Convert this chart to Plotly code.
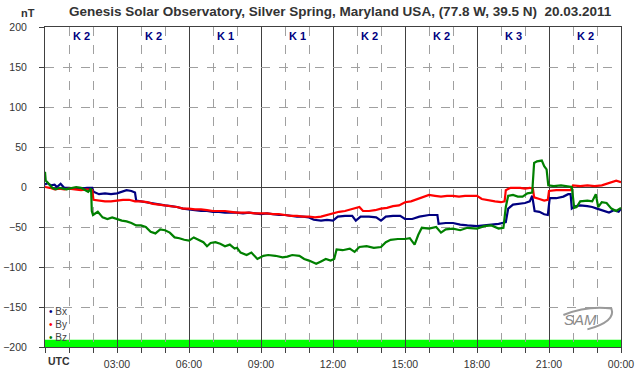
import plotly.graph_objects as go

# ---------------- data ----------------
bx_t = [0, 0.1, 0.25, 0.4, 0.5, 0.65, 0.8, 1.0, 1.25, 1.5, 1.75, 1.97, 2.02, 2.25, 2.5, 2.75, 3.0, 3.2, 3.4, 3.6, 3.75, 3.8,
        4.0, 4.25, 4.5, 4.75, 5.0, 5.25, 5.5, 5.75, 6.0, 6.25, 6.5, 6.75, 7.0, 7.25, 7.5, 7.75, 8.0, 8.25, 8.5, 8.75,
        9.0, 9.25, 9.5, 9.75, 10.0, 10.25, 10.5, 10.75, 11.0, 11.2, 11.5, 11.75, 12.0, 12.2, 12.5, 12.8, 12.95, 13.15,
        13.5, 13.8, 14.0, 14.2, 14.5, 14.8, 15.0, 15.3, 15.6, 16.0, 16.35, 16.4, 16.7, 17.0, 17.3, 17.6, 18.0, 18.3,
        18.6, 18.9, 19.2, 19.3, 19.5, 19.75, 20.0, 20.2, 20.3, 20.4, 20.6, 20.8, 20.95, 21.03, 21.3, 21.6, 21.8, 21.9,
        21.95, 22.1, 22.3, 22.6, 22.8, 23.0, 23.3, 23.5, 23.7, 23.9, 24.0]
bx_v = [3, 5, 2, 3, 0, 4, -1, -1, -2, -2, -1, -1, -6, -9, -8, -9, -8, -6, -4, -5, -7, -17,
        -18, -20, -21, -22, -23, -24, -25, -27, -28, -29, -30, -30, -31, -31, -32, -32, -32, -33, -32, -33,
        -34, -33, -34, -35, -35, -36, -37, -37, -38, -41, -42, -41, -42, -37, -36, -36, -42, -37,
        -37, -38, -42, -37, -36, -36, -40, -40, -37, -35, -35, -46, -45, -45, -47, -48, -49, -48,
        -47, -46, -44, -27, -22, -21, -20, -18, -11, -30, -31, -34, -35, -14, -14, -12, -9, -9,
        -27, -24, -23, -24, -25, -27, -30, -32, -29, -31, -27]

by_t = [0, 0.2, 0.4, 0.6, 0.8, 1.0, 1.25, 1.5, 1.75, 1.97, 2.02, 2.25, 2.5, 2.75, 3.0, 3.25, 3.5, 3.75, 4.0, 4.25,
        4.5, 4.75, 5.0, 5.25, 5.5, 5.75, 6.0, 6.25, 6.5, 6.75, 7.0, 7.25, 7.5, 7.75, 8.0, 8.25, 8.5, 8.75, 9.0, 9.25,
        9.5, 9.75, 10.0, 10.25, 10.5, 10.75, 11.0, 11.25, 11.5, 11.75, 12.0, 12.25, 12.5, 12.75, 13.0, 13.1, 13.25,
        13.5, 13.75, 14.0, 14.25, 14.5, 14.75, 15.0, 15.25, 15.5, 15.75, 16.0, 16.25, 16.5, 16.75, 17.0, 17.25, 17.5,
        17.75, 18.0, 18.2, 18.5, 18.75, 19.0, 19.15, 19.2, 19.4, 19.6, 19.8, 20.0, 20.2, 20.33, 20.38, 20.6, 20.8,
        20.95, 21.0, 21.3, 21.6, 21.9, 22.0, 22.3, 22.6, 22.9, 23.2, 23.5, 23.8, 24.0]
by_v = [0, -1, -3, -2, -3, -2, -3, -4, -3, -4, -16, -17, -18, -18, -17, -16, -16, -18, -18, -19,
        -21, -22, -23, -24, -25, -27, -27, -28, -28, -29, -30, -30, -30, -31, -32, -32, -32, -33, -33, -33,
        -34, -34, -35, -36, -36, -37, -37, -38, -37, -35, -33, -31, -30, -28, -26, -25, -30,
        -30, -29, -27, -26, -24, -23, -19, -18, -15, -13, -10, -11, -12, -11, -11, -12, -11,
        -11, -11, -15, -17, -18, -19, -18, -4, -1, -1, -1, -2, -1, -2, -13, -15, -17,
        -16, -5, -4, -4, -4, 2, 1, 2, 1, 2, 5, 8, 6]

bz_t = [0, 0.03, 0.1, 0.2, 0.3, 0.45, 0.6, 0.75, 0.9, 1.0, 1.15, 1.3, 1.5, 1.65, 1.8, 1.92, 1.95, 2.0, 2.2, 2.4,
        2.6, 2.8, 3.0, 3.2, 3.4, 3.6, 3.8, 4.0, 4.2, 4.4, 4.6, 4.8, 5.0, 5.2, 5.4, 5.6, 5.8, 6.0, 6.2, 6.4, 6.6,
        6.75, 6.9, 7.1, 7.3, 7.5, 7.7, 7.9, 8.0, 8.15, 8.4, 8.6, 8.85, 9.1, 9.3, 9.6, 9.9, 10.1, 10.3, 10.6, 10.8,
        11.0, 11.3, 11.5, 11.7, 11.9, 12.05, 12.15, 12.4, 12.7, 12.9, 13.1, 13.4, 13.7, 14.0, 14.2, 14.4, 14.7,
        15.0, 15.2, 15.4, 15.55, 15.7, 16.0, 16.3, 16.5, 16.7, 17.0, 17.3, 17.6, 18.0, 18.3, 18.6, 18.9, 19.1,
        19.2, 19.3, 19.5, 19.7, 19.9, 20.1, 20.3, 20.38, 20.5, 20.7, 20.8, 20.9, 20.97, 21.2, 21.5, 21.8, 21.95,
        22.05, 22.15, 22.3, 22.6, 22.8, 22.95, 23.05, 23.2, 23.4, 23.6, 23.8, 24.0]
bz_v = [19, 8, 6, 2, -1, -3, -1, -2, -3, -2, -1, 0, -1, -4, -6, -2, -30, -35, -31, -38,
        -40, -38, -40, -42, -43, -45, -48, -48, -50, -56, -58, -53, -54, -57, -63, -64, -66, -67, -63, -66, -69,
        -74, -70, -69, -71, -74, -72, -77, -76, -82, -85, -82, -90, -86, -85, -86, -88, -87, -85, -86, -90,
        -92, -96, -93, -90, -92, -90, -78, -79, -77, -81, -75, -74, -76, -75, -69, -66, -65,
        -65, -64, -72, -60, -51, -52, -50, -57, -53, -52, -54, -51, -52, -49, -48, -52, -51,
        -25, -11, -10, -12, -12, -8, -7, 30, 32, 33, 26, 22, 2, 1, 2, 1, 0,
        -26, -25, -18, -17, -18, -9, -25, -19, -20, -27, -30, -26]

k_index = ["K 2", "K 2", "K 1", "K 1", "K 2", "K 2", "K 3", "K 2"]
x_tick_vals = [0, 3, 6, 9, 12, 15, 18, 21, 24]
x_tick_text = ["", "03:00", "06:00", "09:00", "12:00", "15:00", "18:00", "21:00", "00:00"]
y_tick_vals = [-200, -150, -100, -50, 0, 50, 100, 150, 200]

series = [("Bx", bx_t, bx_v, "#000080"), ("By", by_t, by_v, "#ff0000"), ("Bz", bz_t, bz_v, "#008000")]

FONT = "Liberation Sans, Arial, sans-serif"
TXT = "#333333"

fig = go.Figure()
for name, t, v, col in series:
    fig.add_trace(go.Scatter(x=t, y=v, mode="lines", name=name,
                             line=dict(color=col, width=2.2), showlegend=False))

# green band at bottom
fig.add_shape(type="rect", xref="x", yref="y", x0=0, x1=24, y0=-200, y1=-191,
              fillcolor="#00ff00", line=dict(width=0), layer="below")

# K index labels
for i, k in enumerate(k_index):
    fig.add_annotation(x=1.5 + 3 * i, y=189, xref="x", yref="y", text="<b>%s</b>" % k,
                       showarrow=False, font=dict(family=FONT, size=11, color="#000080"))

# legend as text
for i, (name, t, v, col) in enumerate(series):
    fig.add_annotation(x=0, y=-156 - 16 * i, xref="x", yref="y", xanchor="left", xshift=2,
                       text="<span style='color:%s'>\u2022</span> %s" % (col, name),
                       showarrow=False, font=dict(family=FONT, size=10, color="#444444"))

# title and unit
fig.add_annotation(xref="paper", yref="paper", x=0.513, y=1, yanchor="bottom", yshift=6,
                   text="<b>Genesis Solar Observatory, Silver Spring, Maryland USA, (77.8 W, 39.5 N)  20.03.2011</b>",
                   showarrow=False, font=dict(family=FONT, size=13.5, color=TXT))
fig.add_annotation(xref="paper", yref="paper", x=0, xshift=-26, y=1, yanchor="bottom", yshift=6,
                   text="<b>nT</b>", showarrow=False, font=dict(family=FONT, size=11, color=TXT))
fig.add_annotation(xref="x", yref="paper", x=0, xanchor="left", xshift=1, y=0, yanchor="top", yshift=-6,
                   text="<b>UTC</b>", showarrow=False, font=dict(family=FONT, size=10.5, color=TXT))

# SAM logo
fig.add_annotation(xref="x", yref="y", x=22.3, y=-166, text="<i>SAM</i>", showarrow=False,
                   font=dict(family=FONT, size=15, color="#8a8a8a"))
fig.add_shape(type="path", xref="x", yref="y",
              path="M 21.6,-160 Q 22.6,-148 23.6,-152 Q 23.8,-168 22.6,-178",
              line=dict(color="#9a9a9a", width=2))

fig.update_layout(
    width=642, height=376,
    margin=dict(l=45, r=21, t=27, b=29),
    paper_bgcolor="white", plot_bgcolor="white",
    font=dict(family=FONT, size=10, color=TXT),
    xaxis=dict(range=[0, 24], tickvals=x_tick_vals, ticktext=x_tick_text, automargin=False,
               showgrid=True, gridcolor="#404040", gridwidth=1,
               ticks="outside", ticklen=5, tickcolor="#404040",
               minor=dict(dtick=1, showgrid=True, gridcolor="#a0a0a0", griddash="dash",
                          ticks="outside", ticklen=5, tickcolor="#404040"),
               showline=True, linecolor="#404040", linewidth=1, mirror=True,
               ticklabelstandoff=2,
               zeroline=False, tickfont=dict(size=10.5, color=TXT)),
    yaxis=dict(range=[-200, 200], tickvals=y_tick_vals, automargin=False,
               showgrid=True, gridcolor="#a0a0a0", griddash="dash",
               zeroline=True, zerolinecolor="#404040", zerolinewidth=1,
               ticks="outside", ticklen=5, tickcolor="#404040",
               showline=True, linecolor="#404040", linewidth=1, mirror=True,
               ticklabelstandoff=10, tickfont=dict(size=10.5, color=TXT)),
)

fig.write_html("out.html", config={"displayModeBar": False},
               post_script="document.body.style.margin='0';document.body.style.overflow='hidden';")
